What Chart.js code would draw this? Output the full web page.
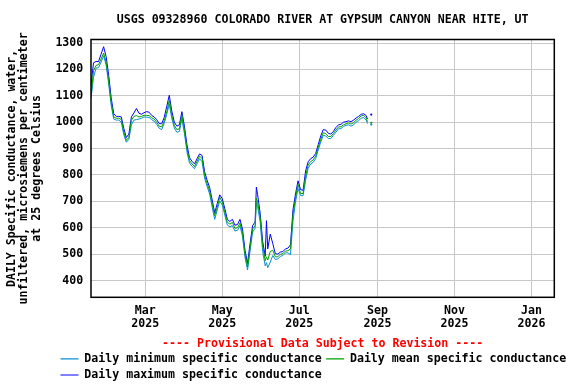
<!DOCTYPE html>
<html><head><meta charset="utf-8">
<script src="https://cdn.jsdelivr.net/npm/chart.js@4.4.1/dist/chart.umd.min.js"></script>
<style>html,body{margin:0;padding:0;background:#fff;}#wrap{width:576px;height:384px;position:relative;}</style>
</head><body><div id="wrap"><canvas id="c" width="576" height="384"></canvas></div>
<script>
const titleText = "USGS 09328960 COLORADO RIVER AT GYPSUM CANYON NEAR HITE, UT";
const yTitle = ["DAILY Specific conductance, water,", "unfiltered, microsiemens per centimeter", "at 25 degrees Celsius"];
const provisionalText = "---- Provisional Data Subject to Revision ----";
const seriesNames = ["Daily minimum specific conductance", "Daily mean specific conductance", "Daily maximum specific conductance"];
// day of year 2025 (Jan 1 = 0)
const days = [16,18,20,22,24,26,28,30,32,34,36,38,40,42,44,46,48,50,52,54,56,58,60,62,64,66,68,70,72,74,76,78,80,82,84,86,88,90,92,94,96,98,100,102,104,106,108,110,112,114,116,118,120,122,124,126,128,130,132,134,136,138,140,142,144,146,147,148,150,152,154,155,156,158,160,162,164,166,168,170,172,174,176,178,180,182,184,186,188,190,192,194,196,198,200,202,204,206,208,210,212,214,216,218,220,222,224,226,228,230,232,234,235,236,238];
const meanVals = [1100,1195,1215,1218,1240,1262,1228,1155,1075,1020,1015,1015,1010,963,931,943,1007,1022,1025,1020,1022,1026,1026,1025,1017,1012,1000,985,982,1005,1040,1083,1025,988,972,975,1026,969,900,855,842,832,852,872,862,798,767,739,690,646,678,716,697,659,621,614,620,598,600,618,580,500,452,525,595,608,712,697,640,532,475,490,478,510,515,490,490,500,502,512,513,520,650,712,765,730,730,795,838,851,857,872,905,935,960,957,946,946,957,970,982,983,990,994,997,993,998,1008,1014,1024,1026,1016,1002,null,998];
const maxVals = [1140,1225,1230,1230,1258,1286,1248,1178,1092,1032,1022,1022,1020,976,942,955,1020,1035,1052,1034,1030,1036,1040,1038,1026,1020,1010,995,994,1018,1060,1102,1042,1000,985,990,1040,985,915,866,852,842,862,880,874,812,780,752,705,656,692,725,710,672,632,624,632,610,612,632,595,515,465,540,608,622,754,725,655,548,492,627,520,576,540,502,500,508,510,520,523,535,668,728,778,745,742,815,850,862,868,882,915,948,972,970,958,955,965,980,990,992,1000,1002,1005,1002,1008,1016,1022,1030,1032,1025,1012,null,1029];
const minVals = [1090,1170,1205,1207,1228,1252,1216,1145,1064,1012,1008,1008,1000,952,924,935,990,1008,1010,1012,1015,1020,1019,1018,1010,1004,992,977,972,996,1030,1068,1015,978,962,965,1012,958,888,846,833,824,842,862,850,788,756,728,678,632,668,702,686,648,610,604,608,588,590,608,568,488,440,512,584,598,695,680,622,510,456,468,449,470,495,480,482,492,495,505,505,498,625,698,748,722,722,780,825,842,848,862,895,925,950,948,938,938,950,962,975,976,984,988,990,985,990,1000,1006,1015,1018,1008,995,null,991];
const xTickDays = [59,120,181,243,304,365];
const xTickLabels = [["Mar","2025"],["May","2025"],["Jul","2025"],["Sep","2025"],["Nov","2025"],["Jan","2026"]];
const yTicks = [400,500,600,700,800,900,1000,1100,1200,1300];
const colors = ["#0a8fd4", "#00a000", "#0000ff"];

const FONT = "'DejaVu Sans Mono', 'Liberation Mono', monospace";
const toPts = arr => arr.map((v, i) => ({x: days[i], y: v}));
const isoRadius = ctx => {
  const d = ctx.dataset.data, i = ctx.dataIndex;
  const p = d[i - 1], n = d[i + 1];
  if (!d[i] || d[i].y == null) return 0;
  return ((!p || p.y == null) && (!n || n.y == null)) ? 1.1 : 0;
};
function ds(label, vals, color, order) {
  return {label, data: toPts(vals), borderColor: color, backgroundColor: color,
    pointBackgroundColor: color, pointBorderWidth: 0, borderWidth: 1, tension: 0,
    pointRadius: isoRadius, pointHoverRadius: 0, spanGaps: false, order};
}

const framePlugin = {
  id: 'frame',
  afterLayout(chart) {
    const lg = chart.legend;
    if (lg) { lg.left = 56; lg.right = 600; lg.width = 544; lg.top = 348.6; lg.bottom = 400; lg.height = 51.4; }
  },
  afterDraw(chart) {
    const {ctx, chartArea: a} = chart;
    ctx.save(); ctx.strokeStyle = '#000'; ctx.lineWidth = 1.5;
    ctx.strokeRect(a.left, a.top, a.right - a.left, a.bottom - a.top); ctx.restore();
  }
};

new Chart(document.getElementById('c'), {
  type: 'line',
  data: { datasets: [
    ds(seriesNames[0], minVals, colors[0], 1),
    ds(seriesNames[1], meanVals, colors[1], 0),
    ds(seriesNames[2], maxVals, colors[2], 2)
  ]},
  options: {
    responsive: false, devicePixelRatio: 1, animation: false,
    layout: {padding: {left: 0, right: 21.7, top: 0, bottom: 0}},
    plugins: {
      tooltip: {enabled: false},
      title: {display: true, text: titleText, fullSize: false, color: '#000',
        font: {family: FONT, size: 11.6, weight: 'bold', lineHeight: 1.2}, padding: {top: 13, bottom: 12.58}},
      legend: {display: true, position: 'bottom', align: 'start',
        labels: {usePointStyle: true, pointStyleWidth: 18, padding: 4.5, color: '#000',
          font: {family: FONT, size: 11.6, weight: 'bold'},
          generateLabels: () => seriesNames.map((t, i) => ({text: t, strokeStyle: colors[i], fillStyle: colors[i],
            lineWidth: 1.2, pointStyle: 'line', datasetIndex: i, fontColor: '#000', hidden: false}))}}
    },
    scales: {
      x: {type: 'linear', min: 16, max: 383,
        afterBuildTicks: s => { s.ticks = xTickDays.map(v => ({value: v})); },
        afterFit: s => { s.height = 44.5; },
        grid: {color: '#c8c8c8', lineWidth: 1, drawTicks: false},
        border: {display: false},
        ticks: {autoSkip: false, maxRotation: 0, padding: 7, color: '#000',
          font: {family: FONT, size: 11.6, weight: 'bold', lineHeight: 1.15},
          callback: v => xTickLabels[xTickDays.indexOf(v)] || ''},
        title: {display: true, text: provisionalText, color: '#ff0000',
          font: {family: FONT, size: 11.6, weight: 'bold', lineHeight: 1.2}, padding: {top: 0, bottom: -9}}
      },
      y: {type: 'linear', min: 336.7, max: 1313.3,
        afterBuildTicks: s => { s.ticks = yTicks.map(v => ({value: v})); },
        afterFit: s => { s.width = 91; },
        grid: {color: '#c8c8c8', lineWidth: 1, drawTicks: false},
        border: {display: false},
        ticks: {padding: 7.7, color: '#000', font: {family: FONT, size: 11.6, weight: 'bold'},
          callback: v => String(v)},
        title: {display: true, text: yTitle, color: '#000',
          font: {family: FONT, size: 11.6, weight: 'bold', lineHeight: 1.06}, padding: {top: 6, bottom: 0}}
      }
    }
  },
  plugins: [framePlugin]
});
</script></body></html>
